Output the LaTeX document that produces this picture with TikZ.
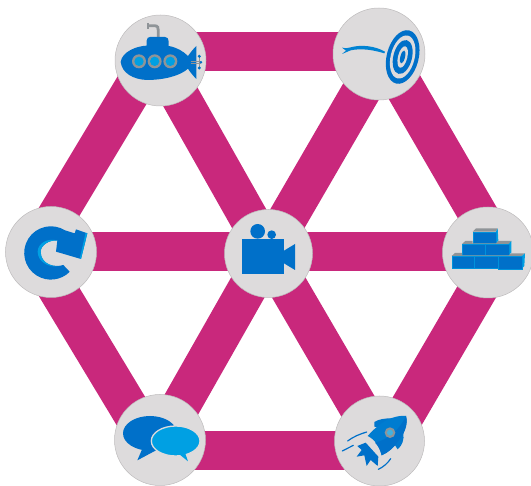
\documentclass[tikz,border=0pt]{standalone}
\definecolor{barc}{HTML}{C9287C}
\definecolor{discc}{HTML}{DDDBDC}
\definecolor{rimc}{HTML}{BDBBBC}
\definecolor{blu}{HTML}{0070C9}
\definecolor{lblu}{HTML}{00A0E3}
\definecolor{gry}{HTML}{8F9498}
\tikzset{
  disc/.style={circle,fill=discc,draw=rimc,line width=0.5pt,inner sep=0pt,minimum size=#1},
  bar/.style={barc,line width=39pt},
  icon/.style={fill=blu,draw=none},
  brick/.style={fill=blu,draw=lblu!70!blu,line width=0.3pt},
  brtop/.style={fill=gry,draw=none},
  brside/.style={fill=lblu,draw=none},
  zoomed/.style={shift={#1},scale=1/3}
}
\begin{document}
\begin{tikzpicture}[x=1pt,y=1pt,yscale=-1]
\useasboundingbox (0,0) rectangle (531,486);
% hexagon vertices, hidden under the discs
\coordinate (va) at (155,52);
\coordinate (vb) at (384,52);
\coordinate (vc) at (500,252);
\coordinate (vd) at (35,252);
\coordinate (ve) at (155,451);
\coordinate (vf) at (384,451);
\coordinate (vo) at (268,252);
\foreach \p/\q in {va/vb,vb/vc,vc/vf,vf/ve,ve/vd,vd/va,va/vo,vb/vo,vc/vo,vd/vo,ve/vo,vf/vo}
  \draw[bar] (\p) -- (\q);
\node[disc=91pt] (sub) at (160.5,60.5) {};
\node[disc=92pt] (target) at (379,54) {};
\node[disc=91pt] (redo) at (51,252) {};
\node[disc=88pt] (cam) at (268.5,253.5) {};
\node[disc=91pt] (wall) at (488,252.5) {};
\node[disc=91pt] (chat) at (160,440) {};
\node[disc=90pt] (rocket) at (379.5,441) {};
% submarine
\begin{scope}[zoomed={(100,0)}]
  \draw[gry,line width=2.8pt] (142,77) -- (163,77) .. controls (174,77) and (175,84) .. (175,92) -- (175,114);
  \fill[gry] (141,68) rectangle (147,88);
  \fill[icon] (62,186) .. controls (66,155) and (110,138) .. (140,137)
     -- (140,122) .. controls (140,114) and (145,111) .. (150,111) -- (195,111)
     .. controls (202,111) and (206,116) .. (206,124) -- (206,138)
     .. controls (230,142) and (250,154) .. (264,168)
     .. controls (270,160) and (280,146) .. (289,138) -- (289,237)
     .. controls (280,228) and (270,216) .. (264,206)
     .. controls (240,228) and (190,240) .. (140,240)
     .. controls (100,238) and (66,220) .. (62,186) -- cycle;
  \foreach \x in {117,164,211} {
    \fill[gry] (\x,184) circle[radius=21];
    \fill[lblu] (\x,184) circle[radius=14];
  }
  \draw[gry,line width=0.8pt] (272,184) -- (302,184) (272,191) -- (302,191) (298,172) -- (298,202);
  \fill[blu] (298,169) circle[radius=5] (298,204) circle[radius=5] (303,187) circle[radius=4];
\end{scope}
% target
\begin{scope}[zoomed={(320,0)}]
  \begin{scope}[shift={(248,171)},rotate=14]
    \fill[blu] (0,0) ellipse[x radius=48,y radius=82];
    \fill[discc] (0,0) ellipse[x radius=36,y radius=66];
    \fill[blu] (0,0) ellipse[x radius=28,y radius=52];
    \fill[discc] (0,0) ellipse[x radius=14,y radius=33];
    \fill[blu] (0,0) ellipse[x radius=7,y radius=20];
  \end{scope}
  \fill[lblu!40!blu] (66,143) .. controls (74,146) and (82,145) .. (92,142)
     .. controls (125,133) and (165,138) .. (195,155) -- (193,160)
     .. controls (160,150) and (125,144) .. (92,151)
     -- (66,162) -- (78,152) -- cycle;
\end{scope}
% redo arrow
\begin{scope}[zoomed={(0,200)}]
  \fill[icon] (195,91) arc[start angle=-58,end angle=-315,radius=80]
     -- (190,195) .. controls (165,203) and (122,195) .. (122,155)
     .. controls (122,135) and (150,118) .. (172,122)
     -- (168,155) -- (243,177) -- (262,100) -- (228,88) -- (224,100) -- cycle;
  \fill[lblu] (176,199) .. controls (150,200) and (122,185) .. (122,155)
     .. controls (122,135) and (150,118) .. (172,122)
     .. controls (145,112) and (113,130) .. (113,155)
     .. controls (113,185) and (145,203) .. cycle;
  \fill[lblu] (262,100) -- (243,177) -- (239,176) -- (257,98) -- cycle;
\end{scope}
% camera
\begin{scope}[zoomed={(215,200)}]
  \fill[icon] (82,118) rectangle (207,222);
  \fill[icon] (207,152) -- (240,132) -- (240,210) -- (207,190) -- cycle;
  \fill[icon] (128,94) circle[radius=22];
  \fill[icon] (170,104) circle[radius=13];
\end{scope}
% wall of bricks
\begin{scope}[zoomed={(431,200)}]
  \fill[brtop] (125,95) -- (135,85) -- (200,85) -- (195,95) -- cycle;
  \fill[brside] (195,95) -- (200,85) -- (202,122) -- (195,130) -- cycle;
  \draw[brick] (125,95) rectangle (195,130);
  \fill[brtop] (93,132) -- (103,123) -- (125,123) -- (125,130) -- (195,130) -- (202,123) -- (241,123) -- (233,132) -- cycle;
  \fill[brside] (233,132) -- (241,123) -- (241,158) -- (233,166) -- cycle;
  \draw[brick] (93,132) rectangle (163,166);
  \draw[brick] (163,132) rectangle (233,166);
  \fill[brtop] (62,168) -- (72,159) -- (93,159) -- (93,166) -- (233,166) -- (241,160) -- (282,160) -- (272,168) -- cycle;
  \fill[brside] (272,168) -- (282,160) -- (280,198) -- (272,206) -- cycle;
  \draw[brick] (62,168) rectangle (130,204);
  \draw[brick] (130,168) rectangle (201,204);
  \draw[brick] (201,168) rectangle (272,206);
\end{scope}
% speech bubbles
\begin{scope}[zoomed={(105,386)}]
  \fill[icon] (135,142) ellipse[x radius=81,y radius=52];
  \fill[icon] (112,188) -- (97,223) -- (155,192) -- cycle;
  \fill[lblu,draw=discc,line width=1.3pt] (212,165) ellipse[x radius=73,y radius=45];
  \fill[lblu] (222,204) -- (249,226) -- (240,200) -- cycle;
\end{scope}
% rocket
\begin{scope}[zoomed={(325,386)}]
  \fill[icon] (122,170) -- (97,180) -- (110,192) -- (95,212) -- (118,208) -- (125,240)
     -- (137,222) -- (158,240) -- (160,212) -- cycle;
  \fill[blu!85!lblu] (148,108) .. controls (160,100) and (180,96) .. (205,97) -- (170,125) -- (148,122) -- cycle;
  \fill[blu!85!lblu] (218,190) .. controls (232,178) and (238,160) .. (235,142) -- (205,170) -- cycle;
  \fill[blu!75!lblu] (243,90) .. controls (250,115) and (238,145) .. (215,172)
     .. controls (205,184) and (190,200) .. (170,208)
     .. controls (165,185) and (150,160) .. (128,150)
     .. controls (150,125) and (175,105) .. (200,96)
     .. controls (215,91) and (232,88) .. (243,90) -- cycle;
  \fill[blu] (243,90) .. controls (250,115) and (238,145) .. (215,172)
     .. controls (205,184) and (190,200) .. (170,208)
     .. controls (165,190) and (160,180) .. (150,170)
     .. controls (190,160) and (225,130) .. cycle;
  \fill[gry] (195,140) circle[radius=16];
  \fill[lblu!70!discc] (195,140) circle[radius=9];
  \draw[blu,line width=1.2pt,line cap=round] (68,165) .. controls (85,152) and (105,144) .. (125,138);
  \draw[blu,line width=1.2pt,line cap=round] (52,195) -- (85,178);
  \draw[blu,line width=1.2pt,line cap=round] (160,250) .. controls (175,243) and (188,232) .. (197,218);
\end{scope}
\end{tikzpicture}
\end{document}
